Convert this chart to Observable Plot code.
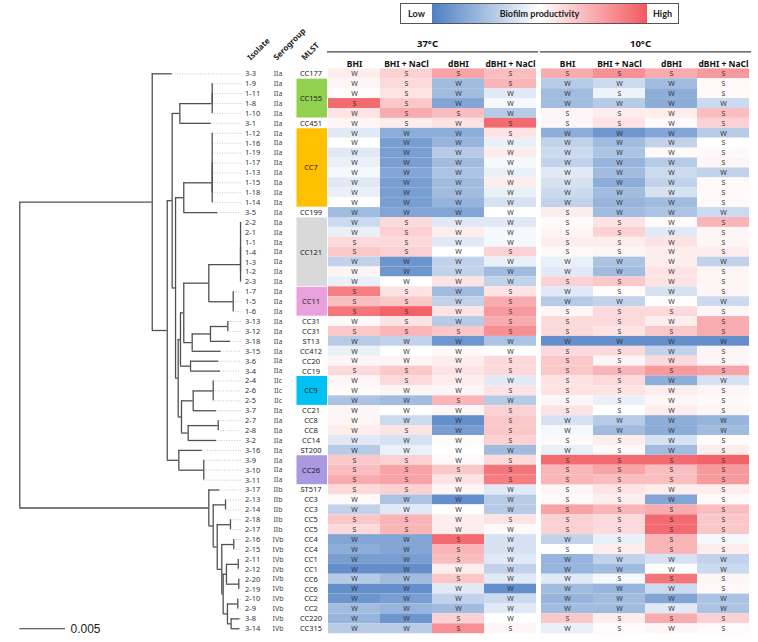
<!DOCTYPE html>
<html><head><meta charset="utf-8">
<script src="https://cdn.jsdelivr.net/npm/d3@7"></script>
<script src="https://cdn.jsdelivr.net/npm/@observablehq/plot@0.6"></script>
<style>
body{margin:0;background:#fff;}
#chart{position:relative;width:758px;height:642px;font-family:Lato,"Open Sans",sans-serif;overflow:hidden;}
#chart svg{position:absolute;left:0;top:0;}
#legend{position:absolute;left:400px;top:3px;width:279px;height:21px;box-sizing:border-box;border:1.5px solid #555;display:flex;font:bold 9px Lato,sans-serif;color:#222;align-items:stretch;}
#legend .end{width:31px;display:flex;align-items:center;justify-content:center;background:#fff;}
#legend .ramp{flex:1;display:flex;align-items:center;justify-content:center;}
</style></head>
<body><div id="chart"><div id="legend"></div></div>
<script>
// ---------- data ----------
const isolates = ["3-3","1-9","1-11","1-8","1-10","3-1","1-12","1-16","1-19","1-17","1-13","1-15","1-18","1-14","3-5","2-2","2-1","1-1","1-4","1-3","1-2","2-3","1-7","1-5","1-6","3-13","3-12","3-18","3-15","3-6","3-4","2-4","2-6","2-5","3-7","2-7","2-8","3-2","3-16","3-9","3-10","3-11","3-17","2-13","2-14","2-18","2-17","2-16","2-15","2-11","2-12","2-20","2-19","2-10","2-9","3-8","3-14"];
const serogroups = [...Array(31).fill("IIa"), ...Array(3).fill("IIc"), ...Array(8).fill("IIa"), ...Array(5).fill("IIb"), ...Array(10).fill("IVb")];
const mlst = ["CC177","CC155","CC155","CC155","CC155","CC451","CC7","CC7","CC7","CC7","CC7","CC7","CC7","CC7","CC199","CC121","CC121","CC121","CC121","CC121","CC121","CC121","CC11","CC11","CC11","CC31","CC31","ST13","CC412","CC20","CC19","CC9","CC9","CC9","CC21","CC8","CC8","CC14","ST200","CC26","CC26","CC26","ST517","CC3","CC3","CC5","CC5","CC4","CC4","CC1","CC1","CC6","CC6","CC2","CC2","CC220","CC315"];
const mlstColors = {CC155:"#92d050", CC7:"#ffc000", CC121:"#d9d9d9", CC11:"#eaa0dc", CC9:"#00c2f2", CC26:"#a899e0"};
const temperatures = ["37°C","10°C"];
const media = ["BHI","BHI + NaCl","dBHI","dBHI + NaCl"];

// relative biofilm productivity (-1 low … +1 high), row order as isolates
const bhi37 = [0.1,0.05,0.02,0.8,0.15,0.05, -0.15,0,-0.15,-0.1,-0.05,-0.15,-0.1,0,-0.45, -0.25,-0.1,0.2,0.3,-0.3,0.05,-0.1, 0.7,0.35,0.75,0.03,0.3,-0.35,-0.1,0.05,0.2, 0.05,0.02,-0.4,0.05,0.05,0.1,-0.15,-0.35, 0.3,0.35,0.45,0.2,0.03,-0.3,0.3,0.2, -0.6,-0.55,-0.65,-0.75,-0.35,-0.75,-0.7,-0.45,-0.5,-0.35];
const bhiNacl37 = [0.25,0.2,0.15,0.3,0.45,0.1, -0.55,-0.65,-0.65,-0.65,-0.6,-0.65,-0.65,-0.65,-0.6, 0.2,0.25,0.2,0.25,-0.7,-0.7,0, 0.15,0.3,0.85,0.15,0.4,-0.3,0,0.05,0.3, 0.2,0.05,-0.45,0,-0.25,0.15,-0.2,-0.1, 0.25,0.5,0.5,0.25,-0.4,-0.15,0.4,0.4, -0.6,-0.6,-0.65,-0.75,-0.45,-0.75,-0.65,-0.5,-0.7,-0.35];
const dbhi37 = [0.5,-0.45,-0.45,-0.6,0.35,0.15, -0.55,-0.5,-0.35,-0.45,-0.4,-0.45,-0.45,-0.5,-0.6, -0.15,0.1,-0.15,0,-0.3,-0.3,0.15, -0.45,-0.3,0.15,-0.35,0.3,-0.7,0.03,0.1,0.15, 0.1,0.05,0.4,0.05,-0.75,-0.65,0.02,0, 0.03,0.3,0.15,0.05,-0.75,0,0.1,0.1, 0.8,0.4,0.35,0.1,0.3,-0.15,-0.3,-0.45,0.25,0.6];
const dbhiNacl37 = [0.35,0.4,-0.15,-0.05,-0.35,0.8, 0.15,-0.1,0.1,-0.05,-0.1,0.1,-0.1,-0.2,0, -0.15,-0.05,-0.05,0.25,-0.1,-0.45,-0.3, 0.15,0.45,0.55,0.45,0.6,-0.4,0,0.2,0.2, -0.15,0.15,-0.35,0.25,0.3,0.3,0.25,-0.45, 0.2,0.75,0.7,-0.15,-0.35,-0.35,0.15,0.03, -0.2,-0.2,-0.15,-0.3,-0.15,-0.75,-0.25,-0.15,0,0.05];
const bhi10 = [0.45,-0.35,-0.45,-0.45,0.05,0.05, -0.55,-0.3,-0.25,-0.3,-0.15,-0.2,-0.25,-0.3,0.1, 0.02,0.05,0.1,0.03,-0.1,-0.15,0.25, -0.15,-0.35,0.05,0.2,0.2,-0.75,0.2,0.3,0.3, 0.15,0.15,0.05,0.15,-0.2,-0.05,0.03,-0.1, 0.8,0.4,0.4,0.05,0.03,0.5,0.25,0.25, -0.3,0,-0.5,-0.5,-0.15,-0.45,-0.5,-0.45,0.3,-0.1];
const bhiNacl10 = [0.6,-0.25,-0.08,-0.35,0.1,0.15, -0.7,-0.45,-0.4,-0.5,-0.45,-0.55,-0.45,-0.5,-0.45, 0.15,0.25,0.1,0.05,-0.4,-0.45,0.3, 0.02,-0.3,0.2,0.2,0.15,-0.75,0.2,0.05,0.4, 0.2,0.15,-0.1,0,-0.35,-0.45,0.1,0.03, 0.8,0.5,0.35,0.15,0.1,0.4,0.2,0.2, -0.1,0.1,-0.3,-0.45,-0.05,-0.5,-0.45,-0.45,0.1,0.02];
const dbhi10 = [0.45,-0.45,-0.55,-0.55,0.1,0.03, -0.6,-0.3,0.03,-0.35,-0.25,-0.3,-0.2,-0.45,-0.4, 0.02,-0.15,0.15,0.1,0.1,0.15,0.15, -0.2,0,0.2,0.1,0.3,-0.75,-0.3,0.2,0.55, -0.55,0.1,0.05,0.1,-0.55,-0.55,-0.2,-0.45, 0.8,0.35,0.35,0.1,-0.6,0.45,0.8,0.8, 0.4,0.4,-0.2,0,0.75,-0.25,-0.6,-0.15,0.45,0.05];
const dbhiNacl10 = [0.55,0.03,0.03,-0.25,0.35,0.25, -0.35,0,0.03,0.05,-0.3,0.03,0.03,0.03,-0.25, 0.4,0.05,0.05,0.1,-0.3,0.05,0.05, 0.05,-0.25,0.05,0.45,0.45,-0.75,0.05,0.05,0.5, -0.2,0.05,0.03,0.05,-0.5,-0.45,0.02,0.1, 0.85,0.55,0.55,0.1,0.03,0.35,0.3,0.3, -0.05,0.1,-0.3,-0.25,0.05,0.03,-0.4,-0.4,0.25,0.02];

// W = weak, S = strong biofilm former
const callsBhi37       = "WWWSWW WWWWWWWWW WWSSWWW SSSWSWWWS WWWWWWWW SSSSWWSS WWWWWWWWWW";
const callsBhiNacl37   = "SSSSSS WWWWWWWWW SSSSWWW SSSSSWWWS SWWWWSWW SSSSWWSS WWWWWWWWWW";
const callsDbhi37      = "SWWWSW WWWWWWWWW WWWWWWW WWWWSWWWW WWSWWWWW WSWWWWWW SSSWSWWWSS";
const callsDbhiNacl37  = "SSWWWS SWWWWWWWW WWWSWWW SSSSSWWSS WSWSSSSW SSSWWWSW WWWWWWWWWS";
const callsBhi10       = "SWWWSS WWWWWWWWS SSSSWWS WWSSSWSSS SSSSWWSW SSSSSSSS WSWWWWWWSW";
const callsBhiNacl10   = "SWSWSS WWWWWWWWW SSSSWWS SWSSSWSSS SSSSWWSS SSSSSSSS SSWWSWWWSS";
const callsDbhi10      = "SWWWWW WWWWWWWWW WWWWWWW WWSWSWWWS WWWWWWWW SSSWWSSS SSWWSWWWSW";
const callsDbhiNacl10  = "SSSWSS WSSSWSSSW SSSSWSS SWSSSWSSS WSSSWWSS SSSSSSSS SSWWSSWWSS";

// dendrogram: [node depth (x 0.001 substitutions/site), ...children]; a string is a tip at its node's depth
const tree =
[0,
  [14.49,
    [16.67, "3-3"],
    [16.13,
      [16.67,
        [17.51,
          [21.05, [21.05, "1-9","1-11","1-8"], "1-10"],
          [20.94, "3-1"]],
        [17.04,
          [17.94,
            [21.05, [21.05, "1-12","1-16","1-19","1-17","1-13","1-15","1-18"], "1-14"],
            [21.66, "3-5"]],
          [17.33,
            [17.58,
              [17.94,
                [20.68,
                  [24.15, [24.15, "2-2","2-1","1-1","1-4","1-3","1-2"], "2-3"],
                  [23.35, "1-7","1-5","1-6"]],
                [18.86,
                  [20.86, [22.76, "3-13","3-12"], [23.05, "3-18"]],
                  [22.03, "3-15"]]],
              [18.68, [21.77, "3-6"], [21.96, "3-4"]]],
            [17.69,
              [18.97, [21.16, "2-4","2-6","2-5"], [21.52, "3-7"]],
              [18.42, [21.71, "2-7","2-8"], [21.52, "3-2"]]]]]],
      [17.40, [19.96, "3-16"], [20.13, "3-9","3-10","3-11"]]]],
  [20.68,
    [21.88, "3-17"],
    [21.16,
      [22.51, "2-13","2-14"],
      [21.60,
        [23.05, "2-18","2-17"],
        [22.10,
          [23.41, "2-16","2-15"],
          [22.25,
            [22.61, [23.90, "2-11","2-12"], [23.96, "2-20","2-19"]],
            [22.72, [23.85, "2-10","2-9"], [23.12, [24.07, "3-8"], [24.07, "3-14"]]]]]]]]];
const scaleBarLength = 5; // 0.005

// ---------- layout ----------
const W = 758, H = 642;
const rowTop = 68.35, rowPitch = 9.91;
const rowBottom = rowTop + rowPitch * isolates.length;
const yRow = {domain: [-0.5, isolates.length - 0.5], range: [rowTop, rowBottom]};
const colorRange = ["#4f80c4", "#ffffff", "#f2595f"];

// ---------- tree segments ----------
const vSegs = [], hSegs = [], tips = [];
function layoutNode(node) {
  const d = node[0];
  const ys = node.slice(1).map(k => {
    if (typeof k === "string") { const y = isolates.indexOf(k); tips.push({name: k, d, y}); return y; }
    const y = layoutNode(k); hSegs.push({x1: d, x2: k[0], y}); return y;
  });
  if (ys.length > 1) vSegs.push({x: d, y1: ys[0], y2: ys[ys.length - 1]});
  return (ys[0] + ys[ys.length - 1]) / 2;
}
layoutNode(tree);
const leaderEnd = 24.26;
const pxPerUnit = 9.14;

const treePlot = Plot.plot({
  width: W, height: H, margin: 0,
  style: {background: "transparent", overflow: "visible"},
  x: {domain: [0, 25], range: [19.3, 19.3 + 25 * pxPerUnit], axis: null},
  y: {...yRow, axis: null},
  marks: [
    Plot.ruleY(tips, {y: "y", x1: "d", x2: leaderEnd, stroke: "#b5b5b5", strokeWidth: 0.8, strokeDasharray: "1,1.6"}),
    Plot.ruleY(hSegs, {y: "y", x1: "x1", x2: "x2", stroke: "#505050", strokeWidth: 1.3}),
    Plot.ruleX(vSegs, {x: "x", y1: "y1", y2: "y2", stroke: "#505050", strokeWidth: 1.3}),
    Plot.ruleY([isolates.length - 1], {x1: 0, x2: scaleBarLength, stroke: "#333", strokeWidth: 1.2}),
    Plot.text([isolates.length - 1], {x: scaleBarLength, y: d => d, text: () => (scaleBarLength / 1000).toFixed(3), textAnchor: "start", dx: 5, fontSize: 12, fill: "#222", fontFamily: "Liberation Sans, Arial, sans-serif"})
  ]
});

// ---------- labels: isolate / serogroup / MLST ----------
const runs = [];
mlst.forEach((m, i) => {
  const last = runs[runs.length - 1];
  if (last && last.name === m && mlstColors[m]) last.end = i;
  else runs.push({name: m, start: i, end: i});
});
const boxes = runs.filter(r => mlstColors[r.name]);
const labelCols = ["Isolate", "Serogroup", "MLST"];
const labelPlot = Plot.plot({
  width: W, height: H, margin: 0,
  style: {background: "transparent", overflow: "visible"},
  x: {domain: labelCols, range: [227, 327], padding: 0, axis: null},
  y: {...yRow, axis: null},
  color: {type: "identity"},
  marks: [
    Plot.barY(boxes, {x: () => "MLST", y1: d => d.start - 0.5, y2: d => d.end + 0.5, fill: d => mlstColors[d.name], insetLeft: 2.5, insetTop: 0.4, insetBottom: 0.4}),
    Plot.text(runs, {x: () => "MLST", y: d => (d.start + d.end) / 2, text: "name", fontSize: 7.5, fill: "#222"}),
    Plot.text(isolates, {x: () => "Isolate", y: (d, i) => i, text: d => d, textAnchor: "start", fontSize: 7.5, fill: "#333"}),
    Plot.text(serogroups, {x: () => "Serogroup", y: (d, i) => i, text: d => d, fontSize: 7, fill: "#444"}),
    Plot.text(["Isolate"], {x: d => d, y: -1.5, text: d => d, rotate: -45, textAnchor: "start", dx: 4, fontSize: 8, fontWeight: "bold", fill: "#222"}),
    Plot.text(["Serogroup"], {x: d => d, y: -1.5, text: d => d, rotate: -45, textAnchor: "start", dx: -3, fontSize: 8, fontWeight: "bold", fill: "#222"}),
    Plot.text(["MLST"], {x: d => d, y: -1.5, text: d => d, rotate: -45, textAnchor: "start", dx: -8, fontSize: 8, fontWeight: "bold", fill: "#222"})
  ]
});

// ---------- heatmap ----------
const columns = [
  {temp: "37°C", medium: "BHI", values: bhi37, calls: callsBhi37},
  {temp: "37°C", medium: "BHI + NaCl", values: bhiNacl37, calls: callsBhiNacl37},
  {temp: "37°C", medium: "dBHI", values: dbhi37, calls: callsDbhi37},
  {temp: "37°C", medium: "dBHI + NaCl", values: dbhiNacl37, calls: callsDbhiNacl37},
  {temp: "10°C", medium: "BHI", values: bhi10, calls: callsBhi10},
  {temp: "10°C", medium: "BHI + NaCl", values: bhiNacl10, calls: callsBhiNacl10},
  {temp: "10°C", medium: "dBHI", values: dbhi10, calls: callsDbhi10},
  {temp: "10°C", medium: "dBHI + NaCl", values: dbhiNacl10, calls: callsDbhiNacl10}
];
const cells = [];
columns.forEach(c => {
  const calls = c.calls.replace(/ /g, "");
  c.values.forEach((v, i) => cells.push({temp: c.temp, medium: c.medium, isolate: isolates[i], value: v, call: calls[i]}));
});

const heatPlot = Plot.plot({
  width: W, height: H,
  marginLeft: 327, marginRight: 8, marginTop: rowTop, marginBottom: H - rowBottom,
  style: {background: "transparent", overflow: "visible"},
  fx: {domain: temperatures, paddingInner: 0.016, paddingOuter: 0, label: null},
  x: {domain: media, padding: 0, label: null},
  y: {domain: isolates, padding: 0, axis: null},
  color: {type: "linear", domain: [-0.85, 0, 0.9], range: colorRange, clamp: true},
  marks: [
    Plot.cell(cells, {fx: "temp", x: "medium", y: "isolate", fill: "value"}),
    Plot.text(cells, {fx: "temp", x: "medium", y: "isolate", text: "call", fontSize: 7, fill: "#333"}),
    Plot.axisX({anchor: "top", tickSize: 0, tickPadding: 2, fontSize: 8.5, fontWeight: "bold", fill: "#111", label: null}),
    Plot.axisFx({anchor: "top", tickSize: 0, tickPadding: 2, dy: -20, dx: -5, fontSize: 9.5, fontWeight: "bold", fill: "#111", label: null}),
    Plot.frame({anchor: "top", dy: -17, stroke: "#444", strokeWidth: 1.2})
  ]
});

const chart = document.getElementById("chart");
chart.append(treePlot, labelPlot, heatPlot);

// ---------- legend ----------
const legend = document.getElementById("legend");
legend.innerHTML = `<div class="end">Low</div><div class="ramp" style="background:linear-gradient(to right, ${colorRange.join(",")})">Biofilm productivity</div><div class="end">High</div>`;
</script>
</body></html>
